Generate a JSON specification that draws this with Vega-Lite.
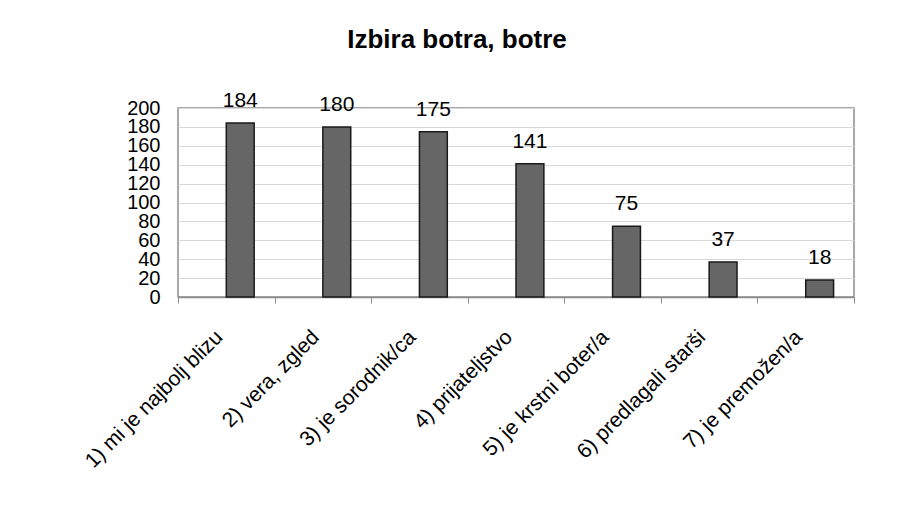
{
  "$schema": "https://vega.github.io/schema/vega-lite/v6.json",
  "width": 676,
  "height": 189,
  "autosize": {"type": "none"},
  "padding": {"left": 178, "top": 108, "right": 51, "bottom": 209},
  "background": "white",
  "title": {"text": "Izbira botra, botre", "font": "Liberation Sans", "fontSize": 26, "fontWeight": "bold", "color": "black", "offset": 37, "dx": -59, "anchor": "middle"},
  "config": {
    "view": {"stroke": "#8c8c8c", "strokeWidth": 1.5},
    "font": "Liberation Sans"
  },
  "data": {"values": [
    {"kategorija": "1) mi je najbolj blizu", "s": "b", "stevilo": 184},
    {"kategorija": "2) vera, zgled", "s": "b", "stevilo": 180},
    {"kategorija": "3) je sorodnik/ca", "s": "b", "stevilo": 175},
    {"kategorija": "4) prijateljstvo", "s": "b", "stevilo": 141},
    {"kategorija": "5) je krstni boter/a", "s": "b", "stevilo": 75},
    {"kategorija": "6) predlagali starši", "s": "b", "stevilo": 37},
    {"kategorija": "7) je premožen/a", "s": "b", "stevilo": 18}
  ]},
  "encoding": {
    "x": {"field": "kategorija", "type": "nominal", "sort": null, "title": null,
      "scale": {"paddingInner": 0, "paddingOuter": 0},
      "axis": {"labelAngle": -45, "labelAlign": "right", "labelBaseline": "alphabetic", "labelFontSize": 21, "labelColor": "black", "labelFont": "Liberation Sans",
        "tickBand": "extent", "tickSize": 6, "tickColor": "#8c8c8c", "domainColor": "#8c8c8c", "domainWidth": 1.5, "labelPadding": 35, "labelOffset": -3, "labelOverlap": false, "labelLimit": 400, "grid": false}},
    "xOffset": {"field": "s", "type": "nominal", "scale": {"domain": ["a", "b"], "paddingInner": 0, "paddingOuter": 0.732}},
    "y": {"field": "stevilo", "type": "quantitative", "title": null,
      "scale": {"domain": [0, 200], "nice": false},
      "axis": {"values": [0,20,40,60,80,100,120,140,160,180,200], "labelFontSize": 20, "labelColor": "black", "labelFont": "Liberation Sans",
        "labelOverlap": false, "labelFlush": false, "labelBound": false,
        "ticks": false, "labelPadding": 18, "domain": false, "gridColor": "#d9d9d9", "gridWidth": 1}}
  },
  "layer": [
    {"mark": {"type": "bar", "fill": "#666666", "stroke": "#1a1a1a", "strokeWidth": 1.5}},
    {"mark": {"type": "text", "baseline": "alphabetic", "dy": -16, "fontSize": 21, "color": "black", "font": "Liberation Sans"},
      "encoding": {"text": {"field": "stevilo"}}}
  ]
}
